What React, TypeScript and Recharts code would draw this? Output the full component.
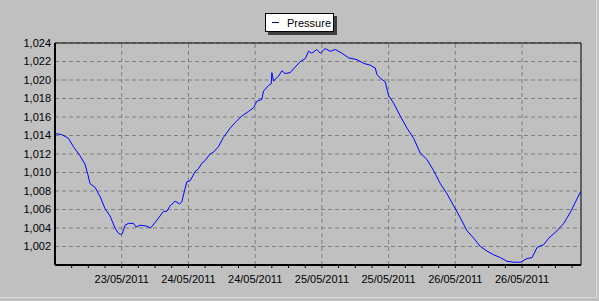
import React from 'react';
import {
  LineChart,
  Line,
  XAxis,
  YAxis,
  CartesianGrid,
  ReferenceLine,
  ReferenceArea,
} from 'recharts';

// hours since 23/05/2011 00:00
const hours = [
  0.0, 1.2, 2.4, 3.3, 4.5, 5.4, 5.9, 6.3, 7.2, 8.1, 9.0, 9.9, 10.8, 11.3, 11.8, 12.1, 12.6, 13.2,
  14.1, 14.6, 15.3, 16.5, 17.2, 18.0, 18.9, 19.5, 20.1, 20.7, 21.6, 22.4, 22.8, 23.2, 23.7, 24.3,
  25.2, 25.8, 26.4, 27.0, 27.9, 28.5, 29.4, 30.3, 31.5, 32.4, 33.6, 34.8, 35.7, 36.3, 37.2, 37.5,
  38.4, 38.9, 39.0, 39.3, 40.2, 40.8, 41.4, 42.3, 43.2, 44.1, 45.0, 45.6, 46.2, 47.1, 47.7, 48.6,
  49.5, 50.4, 51.6, 52.8, 54.3, 55.5, 56.7, 57.6, 57.9, 58.5, 59.4, 60.0, 60.9, 62.1, 63.3, 64.5,
  65.7, 66.9, 68.1, 69.3, 70.5, 71.7, 72.9, 74.1, 75.3, 76.5, 77.7, 78.9, 80.1, 81.3, 82.5, 83.7,
  84.9, 85.8, 86.7, 87.9, 88.8, 90.3, 91.5, 92.7, 93.6, 94.5,
];

const pressure = [
  1014.2, 1014.1, 1013.7, 1012.8, 1011.8, 1010.9, 1009.8, 1008.8, 1008.4, 1007.4, 1006.1, 1005.3,
  1004.0, 1003.5, 1003.3, 1003.4, 1004.3, 1004.5, 1004.5, 1004.1, 1004.3, 1004.2, 1004.0, 1004.6,
  1005.3, 1005.8, 1005.8, 1006.4, 1006.9, 1006.6, 1006.8, 1007.8, 1009.0, 1009.1, 1010.1, 1010.4,
  1011.0, 1011.3, 1012.0, 1012.2, 1012.8, 1013.8, 1014.8, 1015.4, 1016.1, 1016.6, 1017.0, 1017.7,
  1017.9, 1018.8, 1019.4, 1019.6, 1020.8, 1019.9, 1020.4, 1021.0, 1020.7, 1020.8, 1021.4, 1022.0,
  1022.3, 1023.1, 1022.9, 1023.3, 1022.9, 1023.4, 1023.1, 1023.3, 1022.9, 1022.4, 1022.2, 1021.8,
  1021.6, 1021.3, 1020.6, 1020.2, 1019.8, 1018.3, 1017.5, 1016.1, 1014.8, 1013.7, 1012.1, 1011.4,
  1010.2, 1008.8, 1007.7, 1006.4, 1005.1, 1003.7, 1002.9, 1002.0, 1001.5, 1001.1, 1000.8, 1000.4,
  1000.3, 1000.3, 1000.7, 1000.8, 1001.9, 1002.2, 1002.9, 1003.7, 1004.5, 1005.7, 1006.8, 1007.9,
];

const majorTicks = [12, 24, 36, 48, 60, 72, 84];
const majorLabels = [
  '23/05/2011',
  '24/05/2011',
  '24/05/2011',
  '25/05/2011',
  '25/05/2011',
  '26/05/2011',
  '26/05/2011',
];
const minorTicks = [3, 6, 9, 12, 15, 18, 21, 24, 27, 30, 33, 36, 39, 42, 45, 48, 51, 54, 57, 60, 63, 66, 69, 72, 75, 78, 81, 84, 87, 90, 93];
const yTicks = [1002, 1004, 1006, 1008, 1010, 1012, 1014, 1016, 1018, 1020, 1022, 1024];

const data = hours.map((h, i) => ({ h, pressure: pressure[i] }));

const FONT = '"Liberation Sans", Arial, sans-serif';

const XTick = ({ x, y, payload }: any) => {
  const idx = majorTicks.indexOf(payload.value);
  if (idx < 0) return null;
  return (
    <text x={x} y={y} dy="0.71em" textAnchor="middle" fontSize={11} fontFamily={FONT} fill="#000">
      {majorLabels[idx]}
    </text>
  );
};

const fmt = (v: number) => v.toLocaleString('en-US');

export default function App() {
  return (
    <div
      style={{
        position: 'absolute',
        left: 0,
        top: 0,
        width: 599,
        height: 301,
        background: '#c0c0c0',
        fontFamily: FONT,
      }}
    >
      <div
        style={{
          position: 'absolute',
          left: 0,
          top: 0,
          width: 596,
          height: 297,
          borderRight: '1px solid #dcdcdc',
          borderBottom: '1px solid #dcdcdc',
        }}
      />
      <LineChart
        width={599}
        height={301}
        data={data}
        margin={{ top: 43, right: 18, left: 5, bottom: 6 }}
      >
        <CartesianGrid
          vertical={false}
          stroke="#808080"
          strokeDasharray="4 3"
        />
        {majorTicks.map((t) => (
          <ReferenceLine key={t} x={t} stroke="#808080" strokeDasharray="4 3" />
        ))}
        <ReferenceArea x1={0} x2={94.6} y1={1000} y2={1024} fill="none" stroke="#000" strokeWidth={1} />
        <XAxis
          dataKey="h"
          type="number"
          domain={[0, 94.6]}
          ticks={minorTicks}
          interval={0}
          height={30}
          tickSize={3}
          tickMargin={7}
          tickLine={{ stroke: '#000' }}
          axisLine={{ stroke: '#000', strokeWidth: 2 }}
          tick={<XTick />}
        />
        <YAxis
          domain={[1000, 1024]}
          ticks={yTicks}
          interval={0}
          width={50}
          tickSize={4}
          tickMargin={0}
          tickLine={false}
          axisLine={{ stroke: '#000', strokeWidth: 2 }}
          tickFormatter={fmt}
          tick={{ fill: '#000', fontSize: 11, fontFamily: FONT }}
        />
        <Line
          type="linear"
          dataKey="pressure"
          stroke="#0000ff"
          strokeWidth={1}
          dot={false}
          isAnimationActive={false}
        />
      </LineChart>
      <div
        style={{
          position: 'absolute',
          left: 265,
          top: 13,
          width: 67,
          height: 17,
          background: '#fff',
          border: '1px solid #000',
          boxShadow: '3px 3px 0 #404040',
          display: 'flex',
          alignItems: 'center',
          fontSize: 11,
          color: '#000',
        }}
      >
        <span style={{ display: 'inline-block', width: 7, height: 1, background: '#00008b', marginLeft: 6, marginRight: 8 }} />
        <span>Pressure</span>
      </div>
    </div>
  );
}
